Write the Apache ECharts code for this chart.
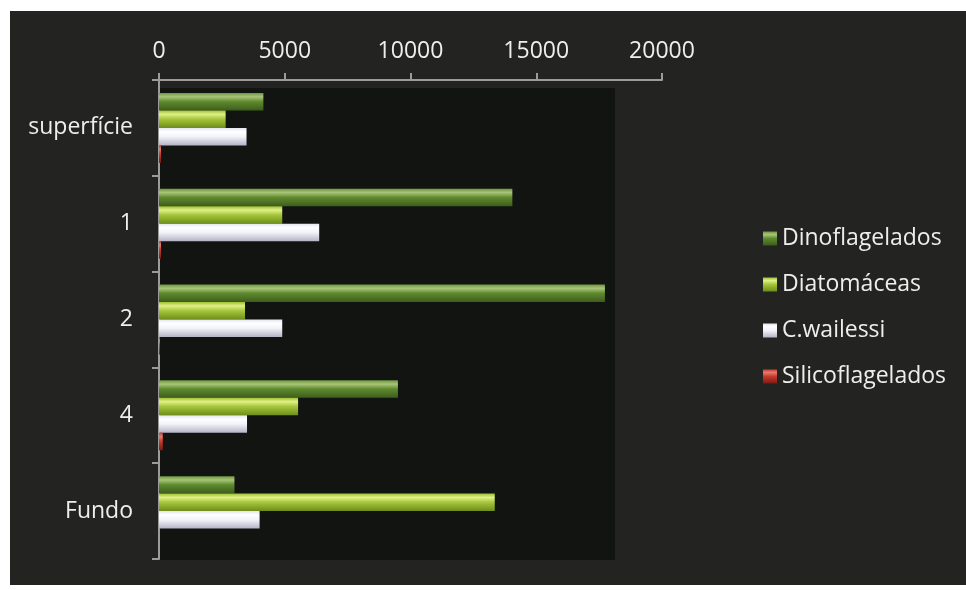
<!DOCTYPE html>
<html>
<head>
<meta charset="utf-8">
<script src="https://cdn.jsdelivr.net/npm/echarts@6/dist/echarts.min.js"></script>
<style>
html,body{margin:0;padding:0;background:#fff;}
#chart{width:966px;height:590px;}
</style>
</head>
<body>
<div id="chart"></div>
<script>
var categories = ['superfície', '1', '2', '4', 'Fundo'];
var seriesNames = ['Dinoflagelados', 'Diatomáceas', 'C.wailessi', 'Silicoflagelados'];
var dinoflagelados = [4150, 14050, 17730, 9500, 3000];
var diatomaceas = [2650, 4900, 3420, 5530, 13350];
var cwailessi = [3480, 6370, 4900, 3500, 4000];
var silicoflagelados = [80, 80, 40, 150, 0];
var xTicks = {min: 0, max: 20000, interval: 5000};

function grad(c0, c1, c2, c3) {
  return new echarts.graphic.LinearGradient(0, 0, 0, 1, [
    {offset: 0, color: c0},
    {offset: 0.22, color: c1},
    {offset: 0.5, color: c2},
    {offset: 1, color: c3}
  ]);
}
var styles = [
  grad('#6f9640', '#a8c578', '#5e8a2e', '#3d5d1c'),
  grad('#9fc030', '#e0f08a', '#a5c63a', '#6e8c1c'),
  grad('#e4e4f0', '#ffffff', '#f2f2f8', '#b4b4c6'),
  grad('#c84038', '#ea7868', '#c43a2e', '#7e1a12')
];
var dataArr = [dinoflagelados, diatomaceas, cwailessi, silicoflagelados];
var font = '"Open Sans", "DejaVu Sans", sans-serif';

var chart = echarts.init(document.getElementById('chart'), null, {renderer: 'canvas'});
chart.setOption({
  backgroundColor: '#ffffff',
  animation: false,
  textStyle: {fontFamily: font},
  graphic: [
    {type: 'rect', z: -10, shape: {x: 10, y: 11, width: 956, height: 574}, style: {fill: '#232421'}},
    {type: 'rect', z: -9, shape: {x: 160, y: 88, width: 455, height: 472}, style: {fill: '#121412'}}
  ],
  grid: {left: 159, top: 80, right: 304, bottom: 31, containLabel: false},
  legend: {
    orient: 'vertical',
    left: 758,
    top: 222,
    itemWidth: 14,
    itemHeight: 14,
    itemGap: 23,
    icon: 'rect',
    textStyle: {color: '#eeeeee', fontSize: 23, fontFamily: font},
    data: seriesNames
  },
  xAxis: {
    type: 'value',
    position: 'top',
    min: xTicks.min,
    max: xTicks.max,
    interval: xTicks.interval,
    splitLine: {show: false},
    axisLine: {show: true, lineStyle: {color: '#9c9c9c', width: 2}},
    axisTick: {show: true, length: 7, lineStyle: {color: '#9c9c9c', width: 2}},
    axisLabel: {color: '#eeeeee', fontSize: 23, margin: 17, fontFamily: font,
      formatter: function (v) { return String(v); }}
  },
  yAxis: {
    type: 'category',
    inverse: true,
    data: categories,
    axisLine: {show: true, lineStyle: {color: '#9c9c9c', width: 2}},
    axisTick: {show: true, length: 7, lineStyle: {color: '#9c9c9c', width: 2}},
    axisLabel: {color: '#eeeeee', fontSize: 23, margin: 26, fontFamily: font}
  },
  series: seriesNames.map(function (name, i) {
    return {
      name: name,
      type: 'bar',
      data: dataArr[i],
      barGap: '0%',
      barCategoryGap: '27%',
      itemStyle: {color: styles[i]}
    };
  })
});
</script>
</body>
</html>
